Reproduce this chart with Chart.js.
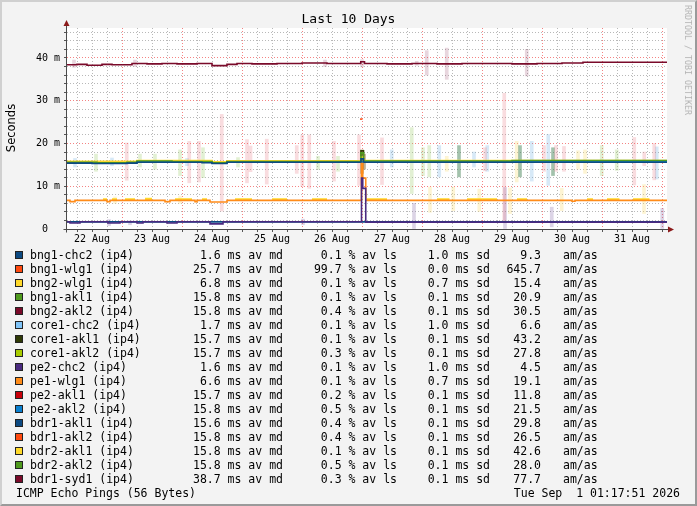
<!DOCTYPE html>
<html>
<head>
<meta charset="utf-8">
<script src="https://cdn.jsdelivr.net/npm/chart.js@4.4.1/dist/chart.umd.min.js"></script>
<style>
  html, body { margin: 0; padding: 0; }
  body { width: 697px; height: 506px; position: relative; overflow: hidden; background: #f3f3f3; font-family: "DejaVu Sans Mono", monospace; color: #000; }
  #frame { position: absolute; left: 0; top: 0; width: 697px; height: 506px; box-sizing: border-box; border-style: solid; border-width: 2px; border-color: #d0d0d0 #9a9a9a #9a9a9a #d0d0d0; pointer-events: none; }
  #chart { position: absolute; left: 0; top: 0; }
  #title { position: absolute; left: 0; top: 11px; width: 697px; text-align: center; font-size: 13px; line-height: 16px; }
  #ylabel { position: absolute; left: 10.5px; top: 127.5px; transform: translate(-50%, -50%) rotate(-90deg); font-family: "DejaVu Sans", sans-serif; font-size: 11.5px; white-space: nowrap; }
  #credit { position: absolute; left: 687.5px; top: 60px; transform: translate(-50%, -50%) rotate(90deg); font-size: 8.3px; color: #b4b4b4; white-space: nowrap; }
  .t { position: absolute; white-space: pre; font-size: 11.5px; line-height: 14px; height: 14px; }
  .r { text-align: right; }
  .box { position: absolute; width: 6px; height: 6px; border: 1px solid #222; }
</style>
</head>
<body>
<canvas id="chart" width="697" height="245"></canvas>
<div id="title">Last 10 Days</div>
<div id="ylabel">Seconds</div>
<div id="credit">RRDTOOL / TOBI OETIKER</div>
<div id="legend"></div>
<div id="frame"></div>
<script>
// legend table
const targets = ['bng1-chc2', 'bng1-wlg1', 'bng2-wlg1', 'bng1-akl1', 'bng2-akl2', 'core1-chc2', 'core1-akl1', 'core1-akl2',
  'pe2-chc2', 'pe1-wlg1', 'pe2-akl1', 'pe2-akl2', 'bdr1-akl1', 'bdr1-akl2', 'bdr2-akl1', 'bdr2-akl2', 'bdr1-syd1'];
const medians = [1.6, 25.7, 6.8, 15.8, 15.8, 1.7, 15.7, 15.7, 1.6, 6.6, 15.7, 15.8, 15.6, 15.8, 15.8, 15.8, 38.7];
const losses = [0.1, 99.7, 0.1, 0.1, 0.4, 0.1, 0.1, 0.3, 0.1, 0.1, 0.2, 0.5, 0.4, 0.4, 0.1, 0.5, 0.3];
const stdDevs = [1.0, 0.0, 0.7, 0.1, 0.1, 1.0, 0.1, 0.1, 1.0, 0.7, 0.1, 0.1, 0.1, 0.1, 0.1, 0.1, 0.1];
const amAs = [9.3, 645.7, 15.4, 20.9, 30.5, 6.6, 43.2, 27.8, 4.5, 19.1, 11.8, 21.5, 29.8, 26.5, 42.6, 28.0, 77.7];
const colours = ['#0d4a82', '#ff4a10', '#ffd92a', '#4f9a1e', '#7a0a2a', '#80c4f8', '#2f3a06', '#a8cc00',
  '#4a2a80', '#ff8c1a', '#c8000a', '#0a80d0', '#0d4a82', '#ff4a10', '#ffd92a', '#4f9a1e', '#7a0a2a'];

// x axis: hours since 22 Aug 00:00
const dayLabels = ['22 Aug', '23 Aug', '24 Aug', '25 Aug', '26 Aug', '27 Aug', '28 Aug', '29 Aug', '30 Aug', '31 Aug'];
const hourTicks = [];
for (let h = 6; h <= 240; h += 6) hourTicks.push(h);
const msTicks = [];
for (let v = 0; v <= 46; v += 2) msTicks.push(v);

// median lines (step changes)
const bdr1Syd1Hours = [2, 6, 10, 16, 20, 28, 34, 40, 46, 54, 60, 66, 70, 76, 86, 96, 106, 119.5, 121, 130, 140, 150, 160, 180, 190, 200, 208.4, 242];
const bdr1Syd1Ms = [38.4, 38.5, 38.3, 38.5, 38.4, 38.7, 38.6, 38.7, 38.6, 38.7, 38.2, 38.5, 38.7, 38.6, 38.7, 38.8, 38.7, 39.1, 38.7, 38.6, 38.7, 38.6, 38.7, 38.6, 38.7, 38.8, 39.0, 39.0];

const bdr1Akl1Hours = [2, 12, 26, 30, 56, 60, 66, 100, 119.6, 120.6, 140, 242];
const bdr1Akl1Ms = [15.4, 15.3, 15.4, 15.6, 15.5, 15.3, 15.6, 15.6, 16.4, 15.6, 15.6, 15.6];
const bng1Akl1Hours = [2, 14, 26, 30, 44, 60, 66, 119.6, 120.6, 180, 242];
const bng1Akl1Ms = [15.6, 15.5, 15.6, 15.9, 15.8, 15.5, 15.8, 17.8, 15.9, 16.0, 16.0];
const bdr2Akl1Hours = [2, 30, 60, 66, 119.6, 120.6, 242];
const bdr2Akl1Ms = [15.8, 16.0, 15.7, 15.9, 16.8, 16.0, 16.0];
const pe2Akl2Hours = [2, 30, 60, 66, 242];
const pe2Akl2Ms = [15.5, 15.7, 15.4, 15.7, 15.7];
const core1Akl1Hours = [2, 119.6, 120.6, 242];
const core1Akl1Ms = [15.7, 18.3, 15.7, 15.7];

const pe1Wlg1Hours = [2, 3.2, 5.2, 18, 19.2, 41.2, 43.2, 53.2, 54, 59.2, 66, 119.8, 120.3, 121.5, 204, 205.2, 242];
const pe1Wlg1Ms = [6.7, 6.4, 6.7, 6.4, 6.7, 6.4, 6.7, 6.4, 6.7, 6.3, 6.7, 15.3, 11.9, 6.7, 6.5, 6.7, 6.7];
const bng2Wlg1Start = [16.4, 20, 25.2, 33.2, 45.2, 56, 69.2, 84, 100, 122, 150, 162, 182, 210, 218, 228.4];
const bng2Wlg1End = [18, 22, 29.2, 36, 52, 58, 76, 90, 106, 130, 155, 174, 186, 212.4, 223, 235];
const bng2Wlg1Ms = [6.9, 6.9, 6.9, 7.0, 6.9, 6.9, 6.9, 6.9, 6.9, 6.9, 6.9, 6.9, 6.9, 6.9, 6.9, 6.9];

const pe2Chc2Hours = [2, 3.2, 7.2, 18.4, 23.2, 30, 32.4, 42, 46, 59.2, 64.4, 119.8, 120.3, 121.5, 242];
const pe2Chc2Ms = [1.7, 1.4, 1.7, 1.4, 1.7, 1.4, 1.7, 1.4, 1.7, 1.2, 1.7, 11.9, 9.5, 1.6, 1.6];
const bng1Chc2Hours = [2, 242];
const bng1Chc2Ms = [1.65, 1.65];
const bng1Wlg1Hours = [119.2, 120.2];
const bng1Wlg1Ms = [25.7, 25.7];

// smoke (min..max spread per interval)
const smokePinkHours = [25.9, 50.9, 54.8, 63.9, 74, 75.4, 81.9, 93.9, 96.1, 98.9, 108.8, 118.8, 128, 169.2, 176.9, 192.8, 197.6, 200.8, 228.9, 232.9, 236.9];
const smokePinkLow = [11.4, 10.8, 11.0, 4.2, 10.8, 13.4, 10.5, 13.0, 10.0, 9.5, 11.2, 10.2, 10.4, 13.6, 1.6, 13.5, 13.5, 13.5, 10.3, 14.8, 11.5];
const smokePinkHigh = [20.1, 20.5, 20.5, 26.8, 20.9, 19.4, 21.0, 19.5, 22.0, 22.0, 20.5, 22.0, 21.3, 19.0, 31.7, 19.5, 19.5, 19.3, 21.4, 18.0, 20.0];
const smokeMaroonHours = [4.8, 29.2, 105.2, 120, 141.9, 145.9, 153.9, 185.9];
const smokeMaroonLow = [37.8, 38.0, 38.0, 37.9, 38.3, 36.0, 35.0, 35.8];
const smokeMaroonHigh = [39.5, 39.5, 39.5, 39.6, 39.2, 41.7, 42.3, 42.0];
const smokeBlueHours = [5.2, 20, 50, 131.9, 150.9, 164.8, 170.1, 187.9, 194.5, 237.9];
const smokeBlueLow = [14.5, 14.8, 14.8, 14.5, 12.2, 14.5, 13.5, 11.2, 10.2, 11.7];
const smokeBlueHigh = [16.5, 16.6, 16.5, 18.5, 19.5, 18.0, 19.5, 20.5, 22.1, 19.2];
const smokeDarkGreenHours = [158.8, 183.2, 196.4];
const smokeDarkGreenLow = [12.2, 12.2, 12.5];
const smokeDarkGreenHigh = [19.5, 19.5, 19.0];
const smokeGreenHours = [13.6, 31.2, 37.2, 47.2, 56.4, 70.4, 102.4, 110.4, 139.9, 144.4, 146.9, 215.9, 221.9];
const smokeGreenLow = [13.5, 14.5, 14.0, 12.5, 12.0, 14.5, 14.0, 13.5, 8.3, 12.5, 12.2, 12.5, 13.7];
const smokeGreenHigh = [17.5, 17.5, 17.5, 18.5, 19.0, 16.7, 17.0, 17.0, 23.7, 19.0, 19.5, 19.5, 18.5];
const smokeYellowHours = [21.2, 47.2, 153.9, 181.9, 206.4, 209.2, 147.2, 156.5, 166.9, 179.2, 199.9, 232.8];
const smokeYellowLow = [6.0, 6.0, 13.5, 11.0, 14.0, 13.0, 3.9, 4.3, 4.1, 3.6, 4.3, 3.6];
const smokeYellowHigh = [7.5, 7.7, 17.0, 20.5, 18.3, 18.5, 9.8, 9.8, 9.3, 9.6, 9.5, 10.4];
const smokePurpleHours = [18.8, 27.2, 96.4, 140.8, 177.2, 195.9, 240.1];
const smokePurpleLow = [0.8, 1.0, 1.0, 0, 0, 0.5, 0];
const smokePurpleHigh = [2.2, 1.9, 2.3, 6.0, 9.7, 5.1, 4.8];
const smokeOliveHours = [120, 120.8];
const smokeOliveLow = [13.0, 14.0];
const smokeOliveHigh = [18.5, 17.5];

function toPoints(hours, values) {
    return hours.map((h, i) => ({ x: h, y: values[i] }));
}

function toPatches(starts, ends, values) {
    const pts = [];
    starts.forEach((s, i) => {
        pts.push({ x: s, y: values[i] }, { x: ends[i], y: values[i] }, { x: ends[i], y: null });
    });
    return pts;
}

function toBars(hours, lows, highs) {
    return hours.map((h, i) => ({ x: h, y: [lows[i], highs[i]] }));
}

function line(label, points, colour, order, width) {
    return { type: 'line', label, data: points, borderColor: colour, borderWidth: width || 1.5,
        stepped: true, pointRadius: 0, fill: false, spanGaps: false, order };
}

function smoke(label, bars, colour) {
    return { type: 'bar', label, data: bars, backgroundColor: colour, borderWidth: 0,
        barThickness: 3, grouped: false, order: 50 };
}

function buildLegend() {
    const legend = document.getElementById('legend');
    const cell = (text, left, top, cls, right) => {
        const d = document.createElement('div');
        d.className = 't ' + (cls || '');
        d.textContent = text;
        d.style.top = top + 'px';
        if (right !== undefined) { d.style.right = (697 - right) + 'px'; } else { d.style.left = left + 'px'; }
        legend.appendChild(d);
    };
    targets.forEach((name, i) => {
        const mid = 254.5 + i * 14;
        const top = mid - 7;
        const box = document.createElement('div');
        box.className = 'box';
        box.style.left = '15px';
        box.style.top = (mid - 4) + 'px';
        box.style.background = colours[i];
        legend.appendChild(box);
        cell(name + ' (ip4)', 30, top);
        cell(medians[i].toFixed(1) + ' ms av md', 0, top, 'r', 283);
        cell(losses[i].toFixed(1) + ' % av ls', 0, top, 'r', 397);
        cell(stdDevs[i].toFixed(1) + ' ms sd', 0, top, 'r', 490);
        cell(amAs[i].toFixed(1), 0, top, 'r', 541);
        cell('am/as', 563, top);
    });
    cell('ICMP Echo Pings (56 Bytes)', 16, 485.5);
    cell('Tue Sep  1 01:17:51 2026', 0, 485.5, 'r', 680);
}

const plotDecor = {
    id: 'plotDecor',
    beforeDraw(chart) {
        const { ctx, chartArea: a } = chart;
        ctx.save();
        ctx.fillStyle = '#ffffff';
        ctx.fillRect(a.left, a.top, a.right - a.left, a.bottom - a.top);
        ctx.restore();
    },
    afterDatasetsDraw(chart) {
        const { ctx, chartArea: a } = chart;
        const x0 = Math.round(a.left) - 0.5;
        const y0 = Math.round(a.bottom) + 0.5;
        ctx.save();
        ctx.strokeStyle = '#4a4a4a';
        ctx.lineWidth = 1;
        ctx.beginPath();
        ctx.moveTo(x0, y0 + 3); ctx.lineTo(x0, a.top - 4);
        ctx.moveTo(x0 - 3, y0); ctx.lineTo(a.right + 3, y0);
        ctx.stroke();
        ctx.fillStyle = '#8b1a1a';
        ctx.beginPath();
        ctx.moveTo(x0, a.top - 8); ctx.lineTo(x0 - 3, a.top - 2); ctx.lineTo(x0 + 3, a.top - 2);
        ctx.closePath(); ctx.fill();
        ctx.beginPath();
        ctx.moveTo(a.right + 7, y0); ctx.lineTo(a.right + 1, y0 - 3); ctx.lineTo(a.right + 1, y0 + 3);
        ctx.closePath(); ctx.fill();
        ctx.restore();
    }
};

function makeChart() {
    const ctx = document.getElementById('chart');
    const tickFont = { family: 'DejaVu Sans Mono', size: 10 };
    new Chart(ctx, {
        type: 'line',
        data: {
            datasets: [
                line('bng1-wlg1', toPoints(bng1Wlg1Hours, bng1Wlg1Ms), colours[1], 0, 1.5),
                line('bdr1-syd1', toPoints(bdr1Syd1Hours, bdr1Syd1Ms), colours[16], 1, 1.6),
                line('pe2-chc2', toPoints(pe2Chc2Hours, pe2Chc2Ms), colours[8], 2, 1.6),
                line('bng1-chc2', toPoints(bng1Chc2Hours, bng1Chc2Ms), colours[0], 3, 1.8),
                line('pe1-wlg1', toPoints(pe1Wlg1Hours, pe1Wlg1Ms), colours[9], 4, 1.6),
                line('bng2-wlg1', toPatches(bng2Wlg1Start, bng2Wlg1End, bng2Wlg1Ms), colours[2], 5, 2.4),
                line('bdr1-akl1', toPoints(bdr1Akl1Hours, bdr1Akl1Ms), colours[12], 6, 1.6),
                line('bng1-akl1', toPoints(bng1Akl1Hours, bng1Akl1Ms), colours[3], 7, 1.6),
                line('pe2-akl2', toPoints(pe2Akl2Hours, pe2Akl2Ms), colours[11], 8, 1.6),
                line('bdr2-akl1', toPoints(bdr2Akl1Hours, bdr2Akl1Ms), colours[14], 9, 1.8),
                line('core1-akl1', toPoints(core1Akl1Hours, core1Akl1Ms), colours[6], 10, 1.6),
                smoke('olive', toBars(smokeOliveHours, smokeOliveLow, smokeOliveHigh), 'rgba(130,100,40,0.5)'),
                smoke('pink', toBars(smokePinkHours, smokePinkLow, smokePinkHigh), 'rgba(232,110,120,0.24)'),
                smoke('maroon', toBars(smokeMaroonHours, smokeMaroonLow, smokeMaroonHigh), 'rgba(140,50,90,0.2)'),
                smoke('blue', toBars(smokeBlueHours, smokeBlueLow, smokeBlueHigh), 'rgba(100,170,225,0.26)'),
                smoke('darkgreen', toBars(smokeDarkGreenHours, smokeDarkGreenLow, smokeDarkGreenHigh), 'rgba(50,120,70,0.45)'),
                smoke('green', toBars(smokeGreenHours, smokeGreenLow, smokeGreenHigh), 'rgba(160,205,110,0.3)'),
                smoke('yellow', toBars(smokeYellowHours, smokeYellowLow, smokeYellowHigh), 'rgba(250,220,110,0.3)'),
                smoke('purple', toBars(smokePurpleHours, smokePurpleLow, smokePurpleHigh), 'rgba(120,90,160,0.26)')
            ]
        },
        options: {
            responsive: false,
            animation: false,
            events: [],
            layout: { padding: { left: 0, top: 28, right: 30, bottom: 0 } },
            plugins: { legend: { display: false }, tooltip: { enabled: false } },
            scales: {
                x: {
                    type: 'linear', min: 2, max: 242, offset: false,
                    afterBuildTicks: s => { s.ticks = hourTicks.map(v => ({ value: v })); },
                    afterFit: s => { s.height = 16; },
                    grid: {
                        offset: false,
                        color: c => (c.tick && c.tick.value % 24 === 0) ? 'rgba(240,90,90,0.75)' : 'rgba(160,160,160,0.75)',
                        tickColor: '#555', tickLength: 3, tickBorderDash: []
                    },
                    border: { display: false, dash: [1, 2] },
                    ticks: {
                        autoSkip: false, maxRotation: 0, padding: 1, color: '#000', font: tickFont,
                        callback: v => v % 24 === 12 ? dayLabels[(v - 12) / 24] : ''
                    }
                },
                y: {
                    min: 0, max: 47,
                    afterBuildTicks: s => { s.ticks = msTicks.map(v => ({ value: v })); },
                    afterFit: s => { s.width = 67; },
                    grid: {
                        color: c => (c.tick && c.tick.value % 10 === 0) ? 'rgba(240,90,90,0.75)' : 'rgba(160,160,160,0.75)',
                        tickColor: '#555', tickLength: 3, tickBorderDash: []
                    },
                    border: { display: false, dash: [1, 2] },
                    ticks: {
                        autoSkip: false, padding: 4, color: '#000', font: tickFont,
                        callback: v => v % 10 === 0 ? (v === 0 ? '0  ' : v + ' m') : ''
                    }
                }
            }
        },
        plugins: [plotDecor]
    });
}

buildLegend();
makeChart();
</script>
</body>
</html>
